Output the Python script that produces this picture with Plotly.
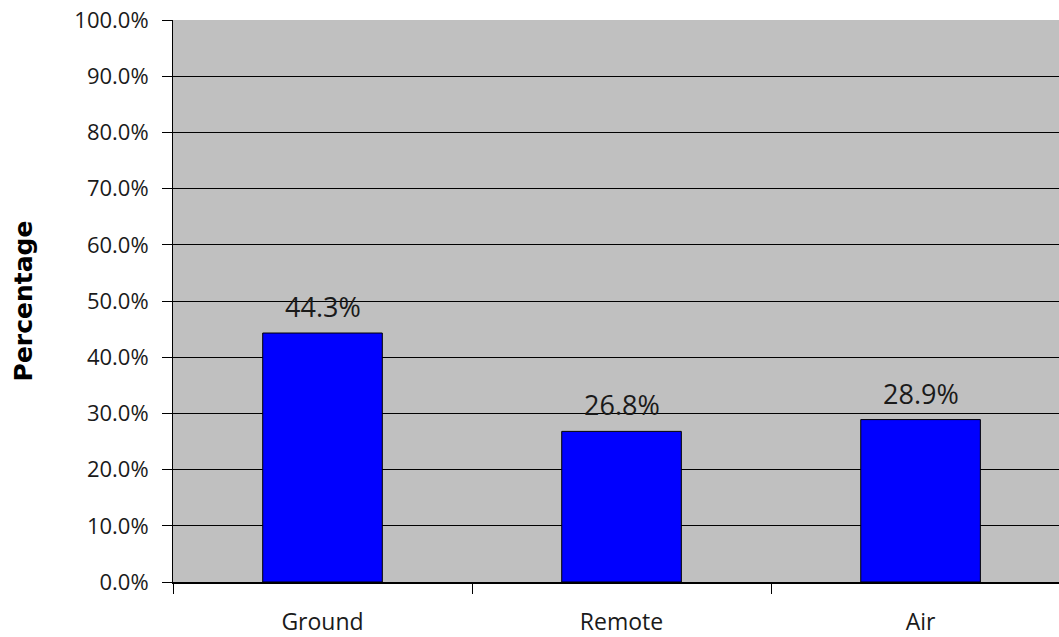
import plotly.graph_objects as go

categories = ["Ground", "Remote", "Air"]
values = [44.3, 26.8, 28.9]
y_ticks = [0, 10, 20, 30, 40, 50, 60, 70, 80, 90, 100]
y_tick_labels = [f"{v:.1f}%" for v in y_ticks]

font = "Open Sans, Liberation Sans, Arial, sans-serif"
ink = "#1a1a1a"

fig = go.Figure()
fig.add_trace(go.Bar(
    x=categories,
    y=values,
    width=0.4,
    marker=dict(color="#0000FF", line=dict(color="#000000", width=1)),
    hoverinfo="skip",
))

# value labels above each bar
for c, v in zip(categories, values):
    fig.add_annotation(
        x=c, y=v, text=f"{v:.1f}%", showarrow=False,
        yanchor="bottom", yshift=6,
        font=dict(family=font, size=27, color=ink),
    )

fig.update_layout(
    width=1059, height=637,
    margin=dict(l=173, r=0, t=20, b=55),
    paper_bgcolor="#FFFFFF",
    plot_bgcolor="#C0C0C0",
    showlegend=False,
    font=dict(family=font, size=22, color=ink),
)
fig.update_xaxes(
    range=[-0.5, 2.463],
    tickson="boundaries",
    ticks="outside", ticklen=10, tickcolor="#000000", tickwidth=1,
    ticklabelstandoff=18,
    showline=True, linecolor="#000000", linewidth=2,
    showgrid=False,
    tickfont=dict(family=font, size=23, color=ink),
)
fig.update_yaxes(
    range=[0, 100],
    tickvals=y_ticks, ticktext=y_tick_labels,
    ticks="outside", ticklen=10, tickcolor="#000000", tickwidth=1,
    ticklabelstandoff=9,
    showline=True, linecolor="#000000", linewidth=1,
    showgrid=True, gridcolor="#000000", gridwidth=1,
    zeroline=False,
    tickfont=dict(family=font, size=22, color=ink),
    title=dict(text="<b>Percentage</b>",
               font=dict(family="DejaVu Sans, sans-serif", size=25, color="#000000"),
               standoff=34),
)

fig.write_html("out.html")
